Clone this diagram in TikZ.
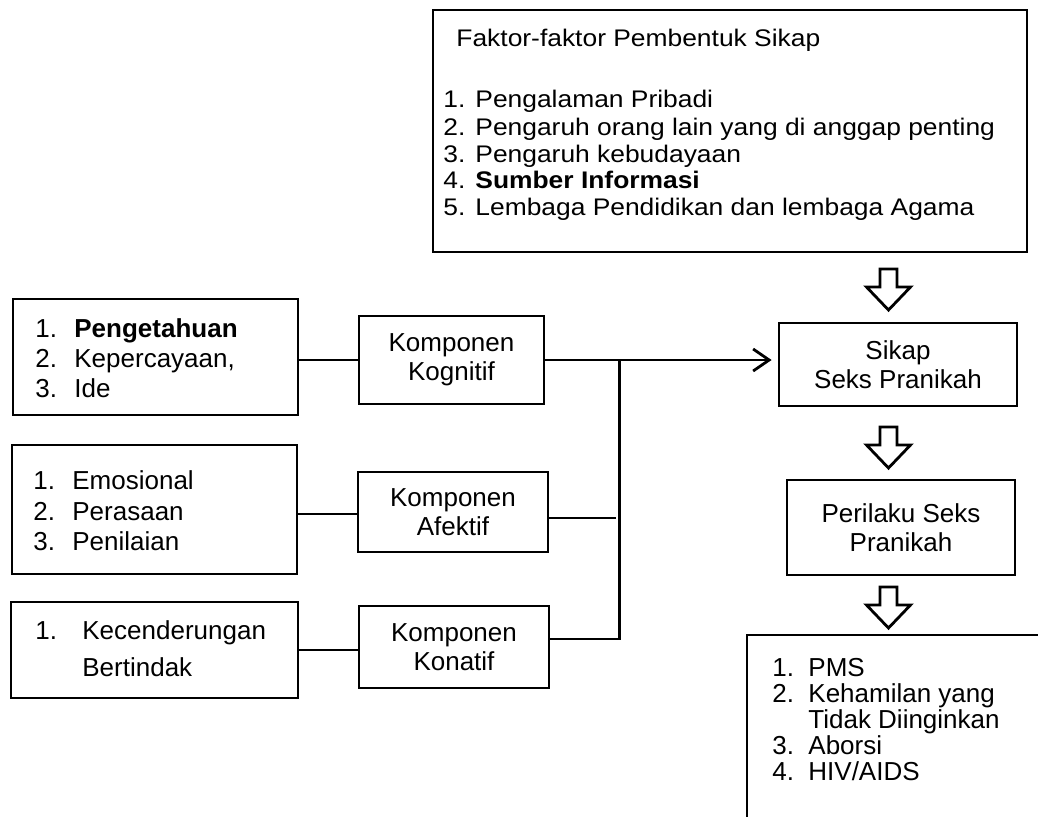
\documentclass[tikz,border=0pt]{standalone}
\usepackage{fontspec}
\setmainfont{Liberation Sans}
\newfontfamily\faktorfont{Liberation Sans}[FakeStretch=1.1]
\usetikzlibrary{positioning, arrows.meta, calc}

\tikzset{
  box/.style={draw, line width=1.4pt, rectangle, inner sep=0pt, align=center,
    font=\fontsize{13}{14.5}\selectfont},
  link/.style={line width=1.4pt},
  item/.style={anchor=base west, inner sep=0pt, font=\fontsize{13}{15}\selectfont},
  fitem/.style={anchor=base west, inner sep=0pt, font=\faktorfont\fontsize{12}{13.5}\selectfont},
  openarrow/.style={draw, line width=1.4pt, fill=white, line join=miter},
}

% hollow block arrow, #1 = top centre of the shaft
\newcommand{\hollowarrow}[1]{%
  \draw[openarrow] (#1) ++(-8.5,0) -- ++(17,0) -- ++(0,18) -- ++(13.5,0)
    -- ++(-22,23) -- ++(-22,-23) -- ++(13.5,0) -- cycle;}

\begin{document}
\begin{tikzpicture}[x=0.5pt, y=-0.5pt]

  \useasboundingbox (0,0) rectangle (1038,816);
  \clip (0,0) rectangle (1038,816);

  %% Boxes
  \node[box, minimum width=297pt, minimum height=121pt] (faktor) at (730,131) {};
  \node[box, minimum width=142.5pt, minimum height=58pt] (pengetahuan) at (155.5,357) {};
  \node[box, minimum width=142.5pt, minimum height=64.5pt] (emosi) at (154.5,509.5) {};
  \node[box, minimum width=143.5pt, minimum height=48pt] (tindak) at (154.5,650) {};
  \node[box, minimum width=92.5pt, minimum height=44pt] (kognitif) at (451.5,360) {Komponen\\Kognitif};
  \node[box, minimum width=95pt, minimum height=40pt] (afektif) at (453,512) {Komponen\\Afektif};
  \node[box, minimum width=95pt, minimum height=41pt] (konatif) at (454,647) {Komponen\\Konatif};
  \node[box, minimum width=119pt, minimum height=41.5pt] (sikap) at (898,364.5) {Sikap\\Seks Pranikah};
  \node[box, minimum width=114pt, minimum height=47.5pt] (perilaku) at (901,527.5) {Perilaku Seks\\Pranikah};
  \node[box, minimum width=166.5pt, minimum height=117.5pt] (dampak) at (913.5,752.5) {};

  %% Faktor pembentuk sikap
  \node[fitem] (faktorJudul) at (456,46) {Faktor-faktor Pembentuk Sikap};
  \foreach \i/\yb/\txt in {
    1/107/Pengalaman Pribadi,
    2/135/Pengaruh orang lain yang di anggap penting,
    3/162/Pengaruh kebudayaan,
    4/188/\textbf{Sumber Informasi},
    5/215/Lembaga Pendidikan dan lembaga Agama
  }{
    \node[fitem] (faktorNum\i) at (443,\yb) {\i.};
    \node[fitem] (faktorTxt\i) at (475,\yb) {\txt};
  }

  %% Left lists
  \foreach \i/\yb/\txt in {1/337/\textbf{Pengetahuan}, 2/367/{Kepercayaan,}, 3/397/Ide}{
    \node[item] (kogNum\i) at (35,\yb) {\i.};
    \node[item] (kogTxt\i) at (74,\yb) {\txt};
  }
  \foreach \i/\yb/\txt in {1/489/Emosional, 2/520/Perasaan, 3/550/Penilaian}{
    \node[item] (afNum\i) at (33,\yb) {\i.};
    \node[item] (afTxt\i) at (72,\yb) {\txt};
  }
  \node[item] (konNum1) at (35,639) {1.};
  \node[item] (konTxt1) at (82,639) {Kecenderungan};
  \node[item] (konTxt1b) at (82,676) {Bertindak};

  %% Dampak
  \foreach \i/\yb/\txt in {1/676/PMS, 2/702/Kehamilan yang, 3/754/Aborsi, 4/780/{HIV/AIDS}}{
    \node[item] (dampakNum\i) at (772,\yb) {\i.};
    \node[item] (dampakTxt\i) at (808,\yb) {\txt};
  }
  \node[item] (dampakTxt2b) at (808,728) {Tidak Diinginkan};

  %% Connectors
  \draw[link] (kognitif.west -| pengetahuan.east) -- (kognitif.west);
  \draw[link] ($(afektif.west)+(0,2)$) -- ($(afektif.west -| emosi.east)+(0,2)$);
  \draw[link] ($(konatif.west)+(0,3)$) -- ($(konatif.west -| tindak.east)+(0,3)$);

  \coordinate (busTop) at ($(kognitif.east)+(74,0)$);
  \coordinate (busBot) at ($(busTop |- konatif.east)+(0,-8)$);
  \draw[link] (busBot -| konatif.east) -- (busBot) -- (busTop);
  \draw[link, shorten >=1.5pt] ($(afektif.east)+(0,6)$) -- ($(afektif.east -| busTop)+(0,6)$);
  \draw[link, -{Straight Barb[length=8pt, width=11pt]}, shorten >=3pt]
    (kognitif.east) -- (kognitif.east -| sikap.west);

  %% Block arrows
  \coordinate (arrA) at (888.5,269);
  \coordinate (arrB) at (888.5,427);
  \coordinate (arrC) at (888.5,587);
  \hollowarrow{arrA}
  \hollowarrow{arrB}
  \hollowarrow{arrC}

\end{tikzpicture}
\end{document}
